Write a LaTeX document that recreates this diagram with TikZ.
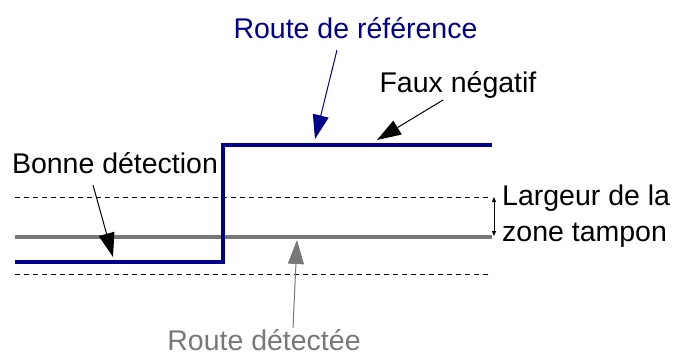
\documentclass[tikz,border=0pt]{standalone}
\usepackage{fontspec}
\setmainfont{Liberation Sans}
\usetikzlibrary{arrows.meta}
\definecolor{routeblue}{RGB}{0,0,140}
\definecolor{detgray}{RGB}{120,120,120}
\tikzset{
  lbl/.style={font=\fontsize{28.5}{36}\selectfont, inner sep=0pt, anchor=base},
  bigarrow/.style={line width=1pt, -{Triangle[length=24pt,width=16pt]}},
  buffer/.style={dashed, line width=0.8pt, dash pattern=on 5pt off 4pt},
}
\begin{document}
\begin{tikzpicture}[x=1pt,y=-1pt]
\useasboundingbox (0,0) rectangle (673,356);
% buffer lines
\draw[buffer] (15,197) coordinate (bt1) -- (492,197) coordinate (bt2);
\draw[buffer] (15,274) coordinate (bb1) -- (492,274) coordinate (bb2);
% detected route
\draw[detgray, line width=4pt] (15,237) coordinate (d1) -- (492,237) coordinate (d2);
% reference route
\draw[routeblue, line width=3.5pt] (15,262) coordinate (r1) -- (223,262) -- (223,145) -- (492,145) coordinate (r2);
% labels
\node[lbl, text=routeblue] (ref) at (355.5,38) {Route de référence};
\node[lbl] (fn) at (458,92) {Faux négatif};
\node[lbl] (bd) at (115,173) {Bonne détection};
\node[lbl, anchor=base west] (lz1) at (502,205) {Largeur de la};
\node[lbl, anchor=base west] (lz2) at (502,241) {zone tampon};
\node[lbl, text=detgray] (rd) at (264,350) {Route détectée};
% arrows
\coordinate (refs) at (337,50);
\coordinate (refe) at (315,139);
\draw[bigarrow, routeblue] (refs) -- (refe);
\coordinate (fns) at (443,100);
\coordinate (fne) at (377,140);
\draw[bigarrow] (fns) -- (fne);
\coordinate (bds) at (93,185);
\coordinate (bde) at (113,257);
\draw[bigarrow] (bds) -- (bde);
\coordinate (rds) at (293,328);
\coordinate (rde) at (297,240);
\draw[bigarrow, detgray] (rds) -- (rde);
\coordinate (wt) at (494,197);
\coordinate (wb) at (494,236);
\draw[line width=0.8pt, {Triangle[length=5pt,width=4pt]}-{Triangle[length=5pt,width=4pt]}] (wt) -- (wb);
\end{tikzpicture}
\end{document}
